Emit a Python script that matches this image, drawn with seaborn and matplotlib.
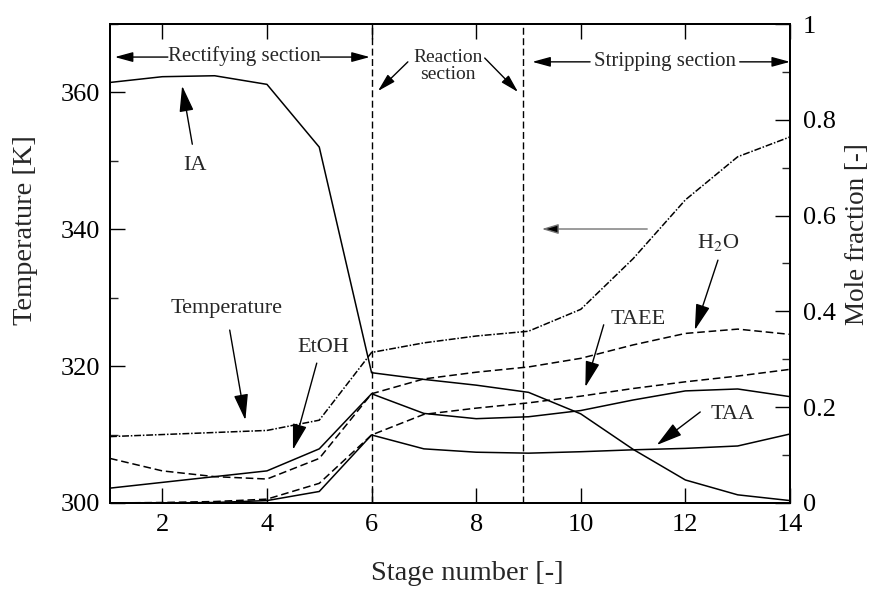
import matplotlib
matplotlib.use('Agg')
import matplotlib.pyplot as plt
from matplotlib.ticker import MultipleLocator, FuncFormatter
import pandas as pd
import seaborn as sns

# stage profiles
stages = list(range(1, 15))
temperature = [309.7, 310.0, 310.3, 310.6, 312.1, 322.0, 323.4, 324.4, 325.1, 328.3, 335.7, 344.3, 350.6, 353.5]
x_ia = [0.878, 0.890, 0.892, 0.874, 0.743, 0.272, 0.258, 0.246, 0.231, 0.186, 0.112, 0.048, 0.017, 0.005]
x_etoh = [0.031, 0.043, 0.055, 0.067, 0.113, 0.228, 0.187, 0.176, 0.180, 0.193, 0.215, 0.234, 0.238, 0.222]
x_h2o = [0.093, 0.067, 0.055, 0.050, 0.093, 0.228, 0.259, 0.273, 0.284, 0.302, 0.330, 0.354, 0.363, 0.352]
x_taee = [0.0, 0.001, 0.003, 0.008, 0.041, 0.142, 0.185, 0.198, 0.209, 0.223, 0.239, 0.253, 0.265, 0.279]
x_taa = [0.0, 0.0, 0.001, 0.005, 0.024, 0.142, 0.113, 0.106, 0.104, 0.107, 0.111, 0.114, 0.119, 0.144]
components = ['IA', 'EtOH', 'H2O', 'TAEE', 'TAA']
section_bounds = [6, 8.9]

sns.set_style('ticks')
plt.rcParams['font.family'] = ['Liberation Serif']
plt.rcParams['mathtext.fontset'] = 'stix'

df = pd.DataFrame({
    'stage': stages * 5,
    'x': x_ia + x_etoh + x_h2o + x_taee + x_taa,
    'comp': [c for c in components for _ in stages],
})

fig = plt.figure(figsize=(8.74, 5.90), dpi=100)
ax = fig.add_axes([0.1259, 0.1475, 0.778, 0.8118])
ax2 = ax.twinx()

lw = 1.1
sns.lineplot(x=stages, y=temperature, ax=ax, color='k', linewidth=lw,
             linestyle=(0, (4.5, 1.2, 1, 1.2)))
sns.lineplot(data=df, x='stage', y='x', hue='comp', style='comp', ax=ax2,
             palette={c: 'k' for c in components},
             dashes={'IA': '', 'EtOH': '', 'TAA': '', 'H2O': (5, 2.5), 'TAEE': (5, 2.5)},
             linewidth=lw, legend=False)

for b in section_bounds:
    ax.axvline(b, color='k', linewidth=1.0, linestyle=(0, (5, 2.5)))

ax.set_xlim(1, 14)
ax.set_ylim(300, 370)
ax2.set_ylim(0, 1)

ax.xaxis.set_major_locator(MultipleLocator(2))
ax.yaxis.set_major_locator(MultipleLocator(20))
ax.yaxis.set_minor_locator(MultipleLocator(10))
ax2.yaxis.set_major_locator(MultipleLocator(0.2))
ax2.yaxis.set_minor_locator(MultipleLocator(0.1))
ax2.yaxis.set_major_formatter(FuncFormatter(lambda v, p: f'{v:g}'))

ax.tick_params(axis='both', which='major', direction='in', length=11, width=1.0,
               labelsize=19, top=True, right=False)
ax.tick_params(axis='x', pad=8)
ax.tick_params(axis='y', pad=7)
ax.tick_params(axis='y', which='minor', direction='in', length=6, width=1.0, right=False)
ax2.tick_params(axis='y', which='major', direction='in', length=11, width=1.0,
                labelsize=19, pad=9)
ax2.tick_params(axis='y', which='minor', direction='in', length=6, width=1.0)

for a in (ax, ax2):
    for s in a.spines.values():
        s.set_linewidth(1.4)
        s.set_color('k')
    a.tick_params(colors='k')

ax.set_xlabel('Stage number [-]', fontsize=20.5)
ax.set_ylabel('Temperature [K]', fontsize=20.5)
ax2.set_ylabel('Mole fraction [-]', fontsize=19.5, rotation=90)
ax.xaxis.set_label_coords(0.526, -0.121)
ax.yaxis.set_label_coords(-0.106, 0.570)
ax2.yaxis.set_label_coords(1.099, 0.562)
ax2.yaxis.label.set_va('center')

big = dict(arrowstyle='-|>,head_length=0.8,head_width=0.22', color='k',
           linewidth=1.0, mutation_scale=20, shrinkA=0, shrinkB=0)
small = dict(arrowstyle='-|>,head_length=0.55,head_width=0.15', color='k',
             linewidth=1.0, mutation_scale=20, shrinkA=0, shrinkB=0)
tr = ax2.transAxes


def arrow(tip, start, props):
    ax2.annotate('', xy=tip, xycoords='axes fraction', xytext=start,
                 textcoords='axes fraction', arrowprops=props)


# section headers
ax2.text(0.197, 0.933, 'Rectifying section', transform=tr, ha='center', va='center', fontsize=15)
arrow((0.007, 0.931), (0.085, 0.931), small)
arrow((0.382, 0.931), (0.309, 0.931), small)
ax2.text(0.497, 0.913, 'Reaction\nsection', transform=tr, ha='center', va='center',
         fontsize=14, linespacing=1.0)
arrow((0.394, 0.860), (0.438, 0.921), small)
arrow((0.600, 0.858), (0.551, 0.929), small)
ax2.text(0.816, 0.921, 'Stripping section', transform=tr, ha='center', va='center', fontsize=15)
arrow((0.621, 0.921), (0.706, 0.921), small)
arrow((1.0, 0.921), (0.926, 0.921), small)

# axis pointer for temperature curve
ax2.annotate('', xy=(0.635, 0.572), xycoords='axes fraction', xytext=(0.790, 0.572),
             textcoords='axes fraction',
             arrowprops=dict(arrowstyle='-|>,head_length=0.5,head_width=0.15', ec='0.45',
                             fc='k', linewidth=1.0, mutation_scale=20, shrinkA=0, shrinkB=0))

# curve labels
labels = [
    ('IA', (0.125, 0.704), (0.106, 0.871), (0.121, 0.749)),
    ('Temperature', (0.171, 0.405), (0.199, 0.173), (0.176, 0.361)),
    ('EtOH', (0.313, 0.324), (0.269, 0.111), (0.304, 0.292)),
    ('TAEE', (0.776, 0.384), (0.699, 0.242), (0.726, 0.372)),
    ('H$_2$O', (0.894, 0.543), (0.860, 0.361), (0.894, 0.507)),
    ('TAA', (0.915, 0.184), (0.804, 0.121), (0.868, 0.190)),
]
for txt, pos, tip, start in labels:
    ax2.text(pos[0], pos[1], txt, transform=tr, ha='center', va='center', fontsize=16)
    arrow(tip, start, big)

fig.savefig('out.png', dpi=100)
